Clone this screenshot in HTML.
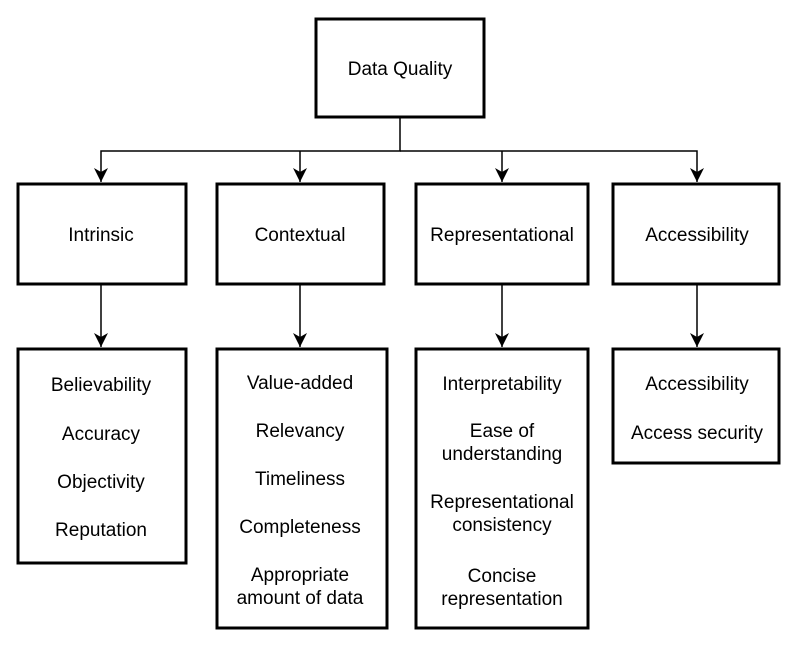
<!DOCTYPE html>
<html><head><meta charset="utf-8"><style>
html,body{margin:0;padding:0;background:#fff;}
svg{display:block;}
text{font-family:"Liberation Sans",Arial,sans-serif;font-size:19px;fill:#000;text-anchor:middle;}
</style></head><body>
<svg width="800" height="650" viewBox="0 0 800 650" xmlns="http://www.w3.org/2000/svg">
<defs>
<marker id="a" markerWidth="16" markerHeight="14" refX="14" refY="7" orient="auto" markerUnits="userSpaceOnUse">
<path d="M0,0 L14,7 L0,14 L4,7 Z" fill="#000"/>
</marker>
</defs>
<g fill="#fff" stroke="#000" stroke-width="3">
<rect x="316" y="19" width="168" height="98"/>
<rect x="18" y="184" width="168" height="100"/>
<rect x="217" y="184" width="167" height="100"/>
<rect x="416" y="184" width="172" height="100"/>
<rect x="613" y="184" width="166" height="100"/>
<rect x="18" y="349" width="168" height="214"/>
<rect x="217" y="349" width="170" height="279"/>
<rect x="416" y="349" width="172" height="279"/>
<rect x="613" y="349" width="166" height="114"/>
</g>
<g fill="none" stroke="#000" stroke-width="1.5">
<path d="M400,118 V151 H101 V182" marker-end="url(#a)"/>
<path d="M300,151 V182" marker-end="url(#a)"/>
<path d="M400,151 H697 V182" marker-end="url(#a)"/>
<path d="M502,151 V182" marker-end="url(#a)"/>
<path d="M101,285 V347" marker-end="url(#a)"/>
<path d="M300,285 V347" marker-end="url(#a)"/>
<path d="M502,285 V347" marker-end="url(#a)"/>
<path d="M697,285 V347" marker-end="url(#a)"/>
</g>
<text x="400" y="75">Data Quality</text>
<text x="101" y="241">Intrinsic</text>
<text x="300" y="241">Contextual</text>
<text x="502" y="241">Representational</text>
<text x="697" y="241">Accessibility</text>
<text x="101" y="391">Believability</text>
<text x="101" y="440">Accuracy</text>
<text x="101" y="488">Objectivity</text>
<text x="101" y="536">Reputation</text>
<text x="300" y="389">Value-added</text>
<text x="300" y="437">Relevancy</text>
<text x="300" y="485">Timeliness</text>
<text x="300" y="533">Completeness</text>
<text x="300" y="581">Appropriate</text>
<text x="300" y="604">amount of data</text>
<text x="502" y="390">Interpretability</text>
<text x="502" y="437">Ease of</text>
<text x="502" y="460">understanding</text>
<text x="502" y="508">Representational</text>
<text x="502" y="531">consistency</text>
<text x="502" y="582">Concise</text>
<text x="502" y="605">representation</text>
<text x="697" y="390">Accessibility</text>
<text x="697" y="439">Access security</text>
</svg>
</body></html>
